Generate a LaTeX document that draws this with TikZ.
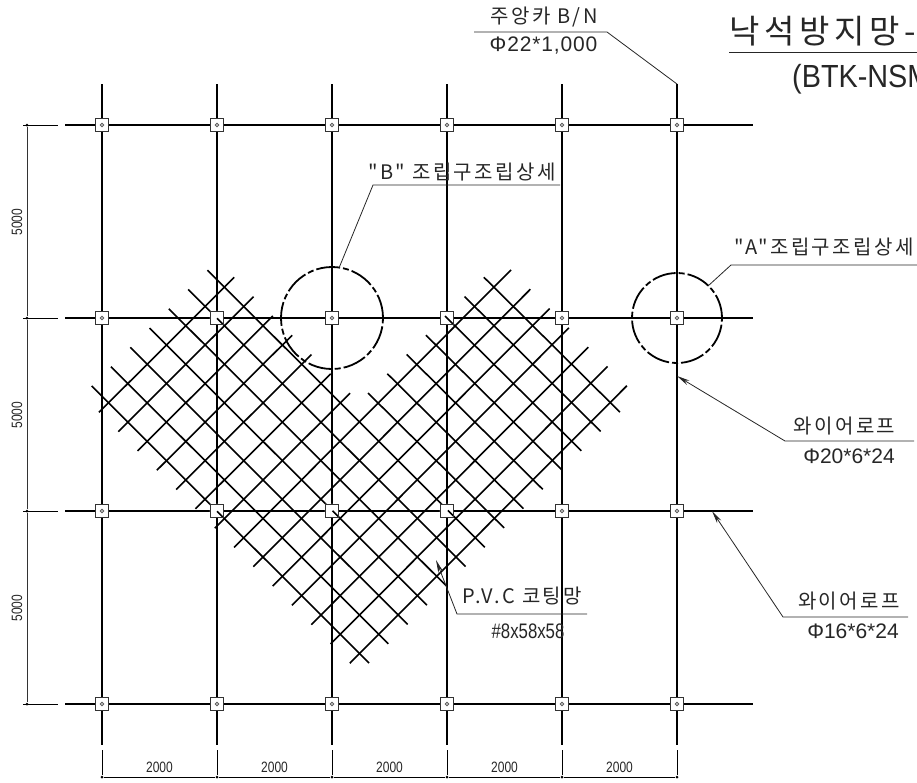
\documentclass[tikz,border=0pt]{standalone}
\usepackage{fontspec}
\usetikzlibrary{arrows.meta}
\setmainfont{Liberation Sans}
\newfontfamily\krfont[LetterSpace=12]{Noto Sans CJK KR}
\newfontfamily\titlekrfont[LetterSpace=14]{Noto Sans CJK KR}
\newfontfamily\cadfont{Liberation Sans}
\newfontfamily\cadwide[LetterSpace=4]{Liberation Sans}
\newfontfamily\cadnarrow[FakeStretch=0.8]{Liberation Sans}
\newfontfamily\titlefont[FakeStretch=0.9]{Liberation Sans}
\tikzset{
	wire/.style={line width=1.8pt, black},
	mesh/.style={line width=1.6pt, black},
	thinline/.style={line width=0.8pt, black!80},
	leader/.style={line width=0.8pt, black!85},
	clampbox/.style={draw=black!80, fill=white, line width=1.3pt, minimum size=13pt, inner sep=0pt},
	clampdot/.style={circle, draw=black!65, line width=0.9pt, minimum size=3.5pt, inner sep=0pt},
	dimdot/.style={circle, fill=black, minimum size=3pt, inner sep=0pt},
	leadtext/.style={inner sep=0pt, black!85},
	kr/.style={font=\krfont\fontsize{20}{20}\selectfont},
	size/.style={font=\cadfont\fontsize{21}{21}\selectfont},
	dimtext/.style={inner sep=0pt, font=\cadnarrow\fontsize{15}{15}\selectfont, black!85},
	detail/.style={draw, circle, inner sep=0pt, line width=1.8pt, black, dash pattern=on 24pt off 3pt on 6pt off 3pt},
	tip/.style={-{Stealth[length=13pt, width=5pt]}},
}
\begin{document}
\begin{tikzpicture}[x=1pt, y=-1pt]
	\useasboundingbox (0,0) rectangle (917,782);

	% grid
	\foreach \i/\x in {1/102, 2/217, 3/332, 4/447, 5/562, 6/677} {
		\coordinate (coltop\i) at (\x,84);
		\coordinate (colbot\i) at (\x,745);
		\draw [wire] (coltop\i) -- (colbot\i);
	}
	\foreach \j/\y in {1/125, 2/318, 3/511, 4/704} {
		\coordinate (rowleft\j) at (65,\y);
		\coordinate (rowright\j) at (753,\y);
		\draw [wire] (rowleft\j) -- (rowright\j);
	}

	% clamps
	\foreach \i/\x in {1/102, 2/217, 3/332, 4/447, 5/562, 6/677} {
		\foreach \j/\y in {1/125, 2/318, 3/511, 4/704} {
			\node [clampbox] (clamp\i\j) at (\x,\y) {};
		}
	}
	\foreach \c in {11,21,31,41,51,61,12,32,52,62,13,53,63,14,24,34,44,54,64} {
		\node [clampdot] (dot\c) at (clamp\c) {};
	}

	% net
	\foreach \k in {0,...,13} {
		\pgfmathsetmacro{\xa}{99+19.3*\k}
		\pgfmathsetmacro{\ya}{412.3+19.3*\k}
		\pgfmathsetmacro{\xb}{\k<7 ? 234.3+19.3*\k : 511+19.3*(\k-7)}
		\pgfmathsetmacro{\yb}{\k<7 ? 277.3+19.3*\k : 270+19.3*(\k-7)}
		\draw [mesh] (\xa,\ya) -- (\xb,\yb);
		\pgfmathsetmacro{\xc}{\k<7 ? 91.7+19.3*\k : 368+19.3*(\k-7)}
		\pgfmathsetmacro{\yc}{\k<7 ? 386-19.3*\k : 393-19.3*(\k-7)}
		\pgfmathsetmacro{\xd}{369+19.3*\k}
		\pgfmathsetmacro{\yd}{663-19.3*\k}
		\ifnum\k=11
			\draw [mesh] (445,316) -- (\xd,\yd);
		\else
			\draw [mesh] (\xc,\yc) -- (\xd,\yd);
		\fi
	}
	\foreach \c in {22,23,33,43} {
		\fill [white] (clamp\c.north west) -- (clamp\c.north east) -- (clamp\c.south west) -- cycle;
	}
	\foreach \c in {22,23,33,43,42} {
		\node [clampbox, fill=none] (edge\c) at (clamp\c) {};
	}

	% detail circles
	\node [detail, minimum size=102pt] (detailb) at (clamp32) {};
	\node [detail, minimum size=90pt] (detaila) at (clamp62) {};

	% dimensions
	\foreach \j/\y in {1/125, 2/318, 3/511, 4/704} {
		\node [dimdot] (dimleft\j) at (27,\y) {};
		\coordinate (dimext\j) at (58,\y);
		\draw [thinline, black, shorten <=-2pt] (dimleft\j.west) -- (dimext\j);
	}
	\draw [thinline] (dimleft1) -- (dimleft2) -- (dimleft3) -- (dimleft4);
	\foreach \i/\x in {1/102, 2/217, 3/332, 4/447, 5/562, 6/677} {
		\node [dimdot] (dimbot\i) at (\x,777) {};
		\coordinate (dimtop\i) at (\x,750);
		\draw [thinline, black] (dimtop\i) -- (dimbot\i);
	}
	\draw [thinline, black] (dimbot1) -- (dimbot2) -- (dimbot3) -- (dimbot4) -- (dimbot5) -- (dimbot6);
	\foreach \y in {222,415,608} {
		\node [dimtext, rotate=90] (height\y) at (17,\y) {5000};
	}
	\foreach \x in {159.5,274.5,389.5,504.5,619.5} {
		\node [dimtext] (width\x) at (\x,767) {2000};
	}

	% title
	\node [leadtext, anchor=base west, font=\titlekrfont\fontsize{33}{33}\selectfont] (title) at (729,43) {낙석방지망-};
	\node [leadtext, anchor=base west, font=\titlefont\fontsize{32}{32}\selectfont] (model) at (792,87) {(BTK-NSM};
	\coordinate (titlea) at (729,52);
	\coordinate (titleb) at (917,52);
	\draw [leader] (titlea) -- (titleb);

	% anchor leader
	\node [leadtext, kr] (anchor) at (544,17) {주앙카 B/N};
	\node [leadtext, font=\cadwide\fontsize{21}{21}\selectfont] (anchorsize) at (543.5,46) {Φ22*1,000};
	\coordinate (anchora) at (474,32);
	\coordinate (anchorb) at (607,32);
	\draw [leader] (anchora) -- (anchorb) -- (coltop6);

	% detail leaders
	\node [leadtext, kr] (labelb) at (462,172) {"B" 조립구조립상세};
	\coordinate (labelba) at (560,185);
	\coordinate (labelbb) at (373,185);
	\coordinate (labelbc) at (339,268);
	\draw [leader] (labelba) -- (labelbb) -- (labelbc);

	\node [leadtext, kr] (labela) at (824,247) {"A"조립구조립상세};
	\coordinate (labelaa) at (917,265);
	\coordinate (labelab) at (731,265);
	\coordinate (labelac) at (708,286);
	\draw [leader] (labelaa) -- (labelab) -- (labelac);

	% wire rope leaders
	\node [leadtext, kr] (ropeupper) at (844.5,426) {와이어로프};
	\node [leadtext, size] (ropeuppersize) at (849,456) {Φ20*6*24};
	\coordinate (ropeuppera) at (914,441);
	\coordinate (ropeupperb) at (785,441);
	\coordinate (ropeupperc) at (677,376);
	\draw [leader, tip] (ropeuppera) -- (ropeupperb) -- (ropeupperc);

	\node [leadtext, kr] (ropelower) at (849,601) {와이어로프};
	\node [leadtext, size] (ropelowersize) at (853,631) {Φ16*6*24};
	\coordinate (ropelowera) at (908,617);
	\coordinate (ropelowerb) at (783,617);
	\coordinate (ropelowerc) at (712,511);
	\draw [leader, tip] (ropelowera) -- (ropelowerb) -- (ropelowerc);

	% net leader
	\node [leadtext, kr] (netlabel) at (522.5,595.5) {P.V.C 코팅망};
	\node [leadtext, font=\cadnarrow\fontsize{21}{21}\selectfont] (netsize) at (528,631.5) {\#8x58x58};
	\coordinate (netleada) at (587,614);
	\coordinate (netleadb) at (457,614);
	\coordinate (netleadc) at (436,560);
	\draw [leader, tip] (netleada) -- (netleadb) -- (netleadc);
\end{tikzpicture}
\end{document}
